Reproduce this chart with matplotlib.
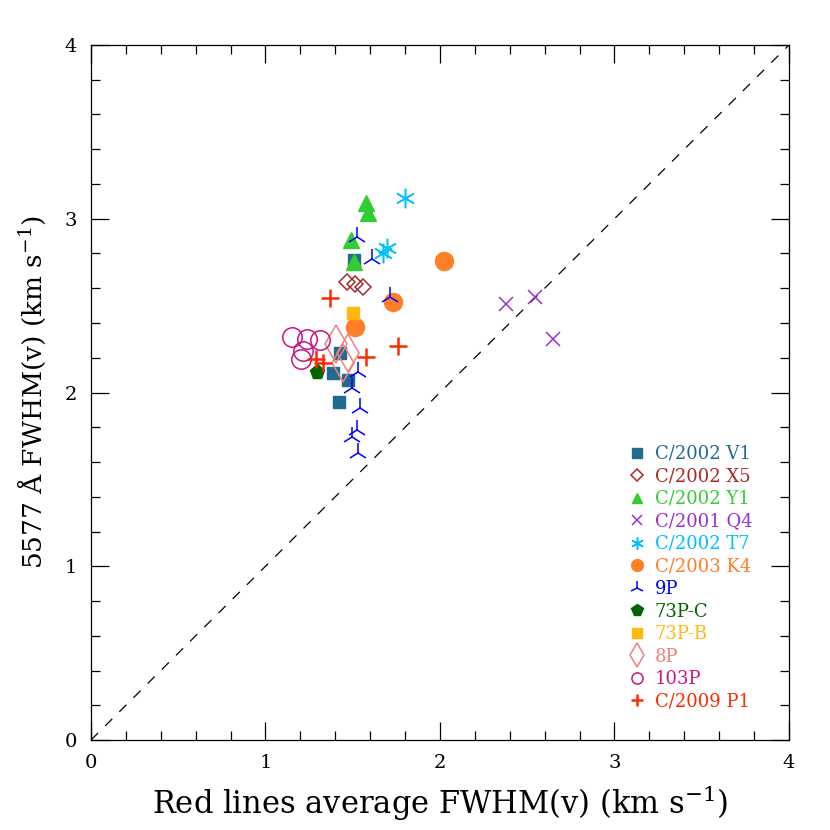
import matplotlib
matplotlib.use('Agg')
import matplotlib.pyplot as plt
from matplotlib.ticker import MultipleLocator

plt.rcParams['font.family'] = ['DejaVu Serif']
plt.rcParams['mathtext.fontset'] = 'dejavuserif'

# comet data: red lines average FWHM (x) vs 5577 A FWHM (y), km/s
v1_x = [1.507, 1.427, 1.385, 1.475, 1.423]
v1_y = [2.763, 2.226, 2.110, 2.072, 1.947]

x5_x = [1.465, 1.513, 1.561]
x5_y = [2.638, 2.624, 2.605]

y1_x = [1.576, 1.589, 1.488, 1.507]
y1_y = [3.089, 3.031, 2.878, 2.753]

q4_x = [2.378, 2.544, 2.648]
q4_y = [2.509, 2.550, 2.308]

t7_x = [1.799, 1.694, 1.675]
t7_y = [3.118, 2.830, 2.801]

k4_x = [2.023, 1.729, 1.513]
k4_y = [2.757, 2.523, 2.379]

p9_x = [1.523, 1.608, 1.713, 1.532, 1.494, 1.542, 1.523, 1.494, 1.532]
p9_y = [2.897, 2.767, 2.548, 2.120, 2.024, 1.909, 1.784, 1.742, 1.654]

p73c_x = [1.297]
p73c_y = [2.120]

p73b_x = [1.500]
p73b_y = [2.456]

p8_x = [1.404, 1.475, 1.446]
p8_y = [2.279, 2.226, 2.172]

p103_x = [1.154, 1.240, 1.312, 1.213, 1.202]
p103_y = [2.318, 2.306, 2.302, 2.241, 2.191]

p1_x = [1.370, 1.576, 1.760, 1.290, 1.330]
p1_y = [2.542, 2.203, 2.270, 2.190, 2.170]

fig = plt.figure(figsize=(8.3, 8.3), dpi=100)
ax = fig.add_axes([0.1096, 0.1084, 0.8410, 0.8374])

ax.plot([0, 4], [0, 4], ls=(0, (8, 8)), color='black', lw=0.9, zorder=1)

# (x, y, marker, color, size, filled, label, legend size)
series = [
    (v1_x, v1_y, 's', '#236b8e', 9, True, 'C/2002 V1', 6.5),
    (x5_x, x5_y, 'D', '#a52a2a', 8, False, 'C/2002 X5', 6.5),
    (y1_x, y1_y, '^', '#32cd32', 11, True, 'C/2002 Y1', 7.5),
    (q4_x, q4_y, 'x', '#9932cc', 9.5, False, 'C/2001 Q4', 7),
    (t7_x, t7_y, (6, 2, 0), '#00bfff', 14, False, 'C/2002 T7', 9),
    (k4_x, k4_y, 'o', '#ff7f27', 13, True, 'C/2003 K4', 8.5),
    (p9_x, p9_y, '2', '#0000ff', 15, False, '9P', 10),
    (p73c_x, p73c_y, 'p', '#006400', 11, True, '73P-C', 8.5),
    (p73b_x, p73b_y, 's', '#ffb90f', 9, True, '73P-B', 6.5),
    (p8_x, p8_y, 'd', '#f08080', 19, False, '8P', 12),
    (p103_x, p103_y, 'o', '#c71585', 14, False, '103P', 8),
    (p1_x, p1_y, '+', '#ff2a00', 13, False, 'C/2009 P1', 9),
]

for x, y, m, c, s, filled, lab, ls in series:
    if filled:
        ax.plot(x, y, ls='none', marker=m, ms=s, color=c, mec=c, label=lab)
    elif m == '+':
        ax.plot(x, y, ls='none', marker=m, ms=s, color=c, mew=1.8, label=lab)
    else:
        ax.plot(x, y, ls='none', marker=m, ms=s, mfc='none', mec=c, mew=1.1, label=lab)

ax.set_xlim(0, 4)
ax.set_ylim(0, 4)
ax.xaxis.set_major_locator(MultipleLocator(1))
ax.yaxis.set_major_locator(MultipleLocator(1))
ax.xaxis.set_minor_locator(MultipleLocator(0.2))
ax.yaxis.set_minor_locator(MultipleLocator(0.2))
ax.tick_params(which='both', direction='in', top=True, right=True, width=0.9)
ax.tick_params(which='major', length=13, labelsize=14, pad=10)
ax.tick_params(which='minor', length=6.5)
for sp in ax.spines.values():
    sp.set_linewidth(0.9)

ax.set_xlabel('Red lines average FWHM(v) (km s$^{-1}$)', fontsize=22, labelpad=8)
ax.set_ylabel('5577 Å FWHM(v) (km s$^{-1}$)', fontsize=19, labelpad=12)

leg = ax.legend(loc='lower left', bbox_to_anchor=(0.761, 0.032), frameon=False,
                fontsize=13, handlelength=0.8, handletextpad=0.6,
                labelspacing=0.25, borderaxespad=0)
for txt, h, s in zip(leg.get_texts(), leg.legend_handles, series):
    txt.set_color(s[3])
    h.set_markersize(s[7])

fig.savefig('out.png', dpi=100)
